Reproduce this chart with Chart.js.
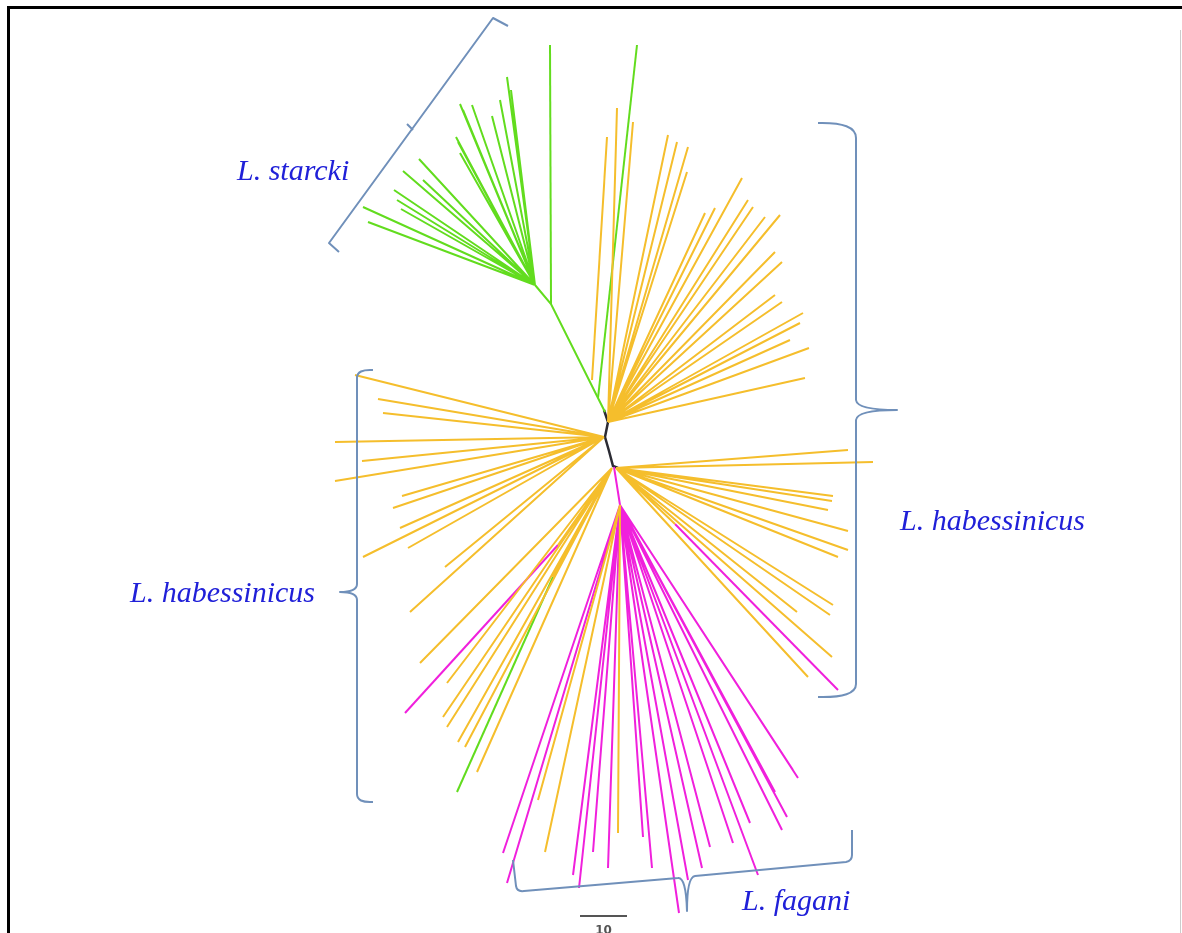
<!DOCTYPE html>
<html>
<head>
<meta charset="utf-8">
<script src="https://cdn.jsdelivr.net/npm/chart.js@4"></script>
<style>
  html, body { margin: 0; padding: 0; background: #fff; }
  #wrap { width: 1182px; height: 933px; position: relative; }
</style>
</head>
<body>
<div id="wrap"><canvas id="chart"></canvas></div>
<script>
// tree layout values (x, y in tree units; y grows downward)
const backbone = [[604, 410], [608, 422], [605, 437], [609, 451], [613, 466], [618, 468]];

const greenStemNode = [605, 412];
const greenNode = [551, 304];
const greenSubNode = [535, 285];
const greenDirectTips = [[550, 45]];
const greenTips = [[507, 77], [511, 90], [500, 100], [492, 116], [472, 105], [460, 104], [463, 110],
  [456, 137], [458, 142], [460, 153], [419, 159], [403, 171], [394, 190], [397, 200], [401, 209],
  [423, 180], [363, 207], [368, 222]];
const greenLongBranch = [[598, 398], [637, 45]];

const upperNode = [608, 422];
const upperTips = [[617, 108], [633, 122], [668, 135], [677, 142], [688, 147], [687, 172], [742, 178],
  [705, 213], [715, 208], [748, 200], [753, 207], [765, 217], [780, 215], [775, 252], [782, 262],
  [775, 295], [782, 302], [803, 313], [800, 323], [790, 340], [809, 348], [805, 378]];
const upperSideBranch = [[592, 380], [607, 137]];

const leftNode = [604, 437];
const leftTips = [[355, 375], [378, 399], [383, 413], [335, 442], [362, 461], [335, 481], [402, 496],
  [393, 508], [400, 528], [408, 548], [363, 557], [445, 567], [410, 612]];

const lowerLeftNode = [612, 468];
const lowerLeftTips = [[420, 663], [447, 683], [443, 717], [447, 727], [458, 742], [465, 747],
  [477, 772], [558, 545], [553, 577]];
const lowerLeftMagenta = [[558, 545], [405, 713]];
const lowerLeftGreen = [[553, 577], [457, 792]];

const rightNode = [616, 468];
const rightTips = [[848, 450], [873, 462], [833, 496], [832, 501], [828, 510], [848, 531], [848, 550],
  [838, 557], [833, 605], [830, 615], [797, 612], [832, 657], [808, 677], [675, 524]];
const rightMagenta = [[675, 524], [838, 690]];

const magentaStem = [[614, 467], [620, 505]];
const magentaNode = [620, 505];
const magentaTips = [[503, 853], [507, 883], [573, 875], [579, 888], [593, 852], [608, 868],
  [643, 837], [652, 868], [679, 913], [688, 880], [702, 868], [710, 847], [733, 843], [758, 875],
  [750, 823], [782, 830], [787, 817], [775, 792], [798, 778], [793, 770]];
const magentaYellowTips = [[545, 852], [538, 800], [618, 833]];

// labels
const cladeNames = ['L. starcki', 'L. habessinicus', 'L. habessinicus', 'L. fagani'];
const cladeLabelAt = [[237, 180], [900, 530], [130, 602], [742, 910]];
const scaleBar = [[580, 916], [627, 916]];
const scaleBarLabel = '10';

const GREEN = '#62dc1e';
const YELLOW = '#f5be2c';
const MAGENTA = '#f020dc';
const BLACK = '#2b2b33';
const BRACE = '#7090ba';
const LABEL = '#2020d8';

function fan(node, tips) {
  const out = [];
  tips.forEach(t => {
    out.push({ x: node[0], y: node[1] }, { x: t[0], y: t[1] }, { x: NaN, y: NaN });
  });
  return out;
}
function path(pts) {
  return pts.map(p => ({ x: p[0], y: p[1] }));
}
function branchSet(data, color, w) {
  return {
    data: data, borderColor: color, backgroundColor: color, borderWidth: w || 2,
    showLine: true, pointRadius: 0, spanGaps: false, tension: 0
  };
}

const datasets = [
  branchSet(fan(upperNode, upperTips), YELLOW),
  branchSet(path(upperSideBranch), YELLOW),
  branchSet(fan(leftNode, leftTips), YELLOW),
  branchSet(fan(lowerLeftNode, lowerLeftTips), YELLOW),
  branchSet(fan(rightNode, rightTips), YELLOW),
  branchSet(fan(magentaNode, magentaYellowTips), YELLOW),
  branchSet(fan(magentaNode, magentaTips), MAGENTA),
  branchSet(path(magentaStem), MAGENTA),
  branchSet(path(lowerLeftMagenta), MAGENTA),
  branchSet(path(rightMagenta), MAGENTA),
  branchSet(path(lowerLeftGreen), GREEN),
  branchSet(path([greenStemNode, greenNode, greenSubNode]), GREEN),
  branchSet(fan(greenNode, greenDirectTips), GREEN),
  branchSet(fan(greenSubNode, greenTips), GREEN),
  branchSet(path(greenLongBranch), GREEN),
  branchSet(path(backbone), BLACK, 2.5)
];

// braces, labels, frame
const decor = {
  id: 'decor',
  afterDatasetsDraw(chart) {
    const ctx = chart.ctx;
    const xs = chart.scales.x, ys = chart.scales.y;
    const P = (x, y) => [xs.getPixelForValue(x), ys.getPixelForValue(y)];
    ctx.save();
    ctx.strokeStyle = BRACE;
    ctx.lineWidth = 2;
    ctx.lineJoin = 'round';

    // L. starcki bracket
    ctx.beginPath();
    ctx.moveTo(...P(508, 26)); ctx.lineTo(...P(493, 18)); ctx.lineTo(...P(329, 243)); ctx.lineTo(...P(339, 252));
    ctx.moveTo(...P(407, 124)); ctx.lineTo(...P(413, 130));
    ctx.stroke();

    // right brace
    ctx.beginPath();
    ctx.moveTo(...P(818, 123));
    ctx.quadraticCurveTo(...P(856, 122), ...P(856, 138));
    ctx.lineTo(...P(856, 400));
    ctx.quadraticCurveTo(...P(857, 410), ...P(897, 410));
    ctx.quadraticCurveTo(...P(857, 410), ...P(856, 420));
    ctx.lineTo(...P(856, 684));
    ctx.quadraticCurveTo(...P(856, 698), ...P(818, 697));
    ctx.stroke();

    // left brace
    ctx.beginPath();
    ctx.moveTo(...P(373, 370));
    ctx.quadraticCurveTo(...P(357, 369), ...P(357, 378));
    ctx.lineTo(...P(357, 584));
    ctx.quadraticCurveTo(...P(357, 592), ...P(340, 592));
    ctx.quadraticCurveTo(...P(357, 592), ...P(357, 600));
    ctx.lineTo(...P(357, 794));
    ctx.quadraticCurveTo(...P(357, 803), ...P(373, 802));
    ctx.stroke();

    // bottom brace
    ctx.beginPath();
    ctx.moveTo(...P(513, 860));
    ctx.lineTo(...P(516, 886));
    ctx.quadraticCurveTo(...P(517, 892), ...P(524, 891));
    ctx.lineTo(...P(678, 878));
    ctx.quadraticCurveTo(...P(686, 877), ...P(687, 911));
    ctx.quadraticCurveTo(...P(687, 877), ...P(695, 876));
    ctx.lineTo(...P(846, 862));
    ctx.quadraticCurveTo(...P(852, 861), ...P(852, 855));
    ctx.lineTo(...P(852, 830));
    ctx.stroke();

    // scale bar
    ctx.strokeStyle = '#555';
    ctx.beginPath();
    ctx.moveTo(...P(scaleBar[0][0], scaleBar[0][1]));
    ctx.lineTo(...P(scaleBar[1][0], scaleBar[1][1]));
    ctx.stroke();
    ctx.fillStyle = '#555';
    ctx.font = 'bold 12px "DejaVu Sans"';
    ctx.textAlign = 'center';
    ctx.textBaseline = 'top';
    const mid = P((scaleBar[0][0] + scaleBar[1][0]) / 2, scaleBar[0][1] + 9);
    ctx.fillText(scaleBarLabel, mid[0], mid[1]);

    // clade labels
    ctx.fillStyle = LABEL;
    ctx.font = 'italic 30px "Liberation Serif"';
    ctx.textAlign = 'left';
    ctx.textBaseline = 'alphabetic';
    cladeNames.forEach((name, i) => {
      const p = P(cladeLabelAt[i][0], cladeLabelAt[i][1]);
      ctx.fillText(name, p[0], p[1]);
    });

    // picture frame
    ctx.fillStyle = '#000';
    ctx.fillRect(7, 6, chart.width - 7, 3);
    ctx.fillRect(7, 6, 3, chart.height - 6);
    ctx.fillStyle = '#ccc';
    ctx.fillRect(1180, 30, 1, chart.height - 30);
    ctx.restore();
  }
};

const config = {
  type: 'scatter',
  data: { datasets: datasets },
  options: {
    responsive: true,
    maintainAspectRatio: false,
    animation: false,
    layout: { padding: 0 },
    plugins: { legend: { display: false }, tooltip: { enabled: false } },
    scales: {
      x: { type: 'linear', min: 0, max: 1182, display: false },
      y: { type: 'linear', min: 0, max: 933, reverse: true, display: false }
    }
  },
  plugins: [decor]
};

var chart = new Chart(document.getElementById('chart'), config);
</script>
</body>
</html>
